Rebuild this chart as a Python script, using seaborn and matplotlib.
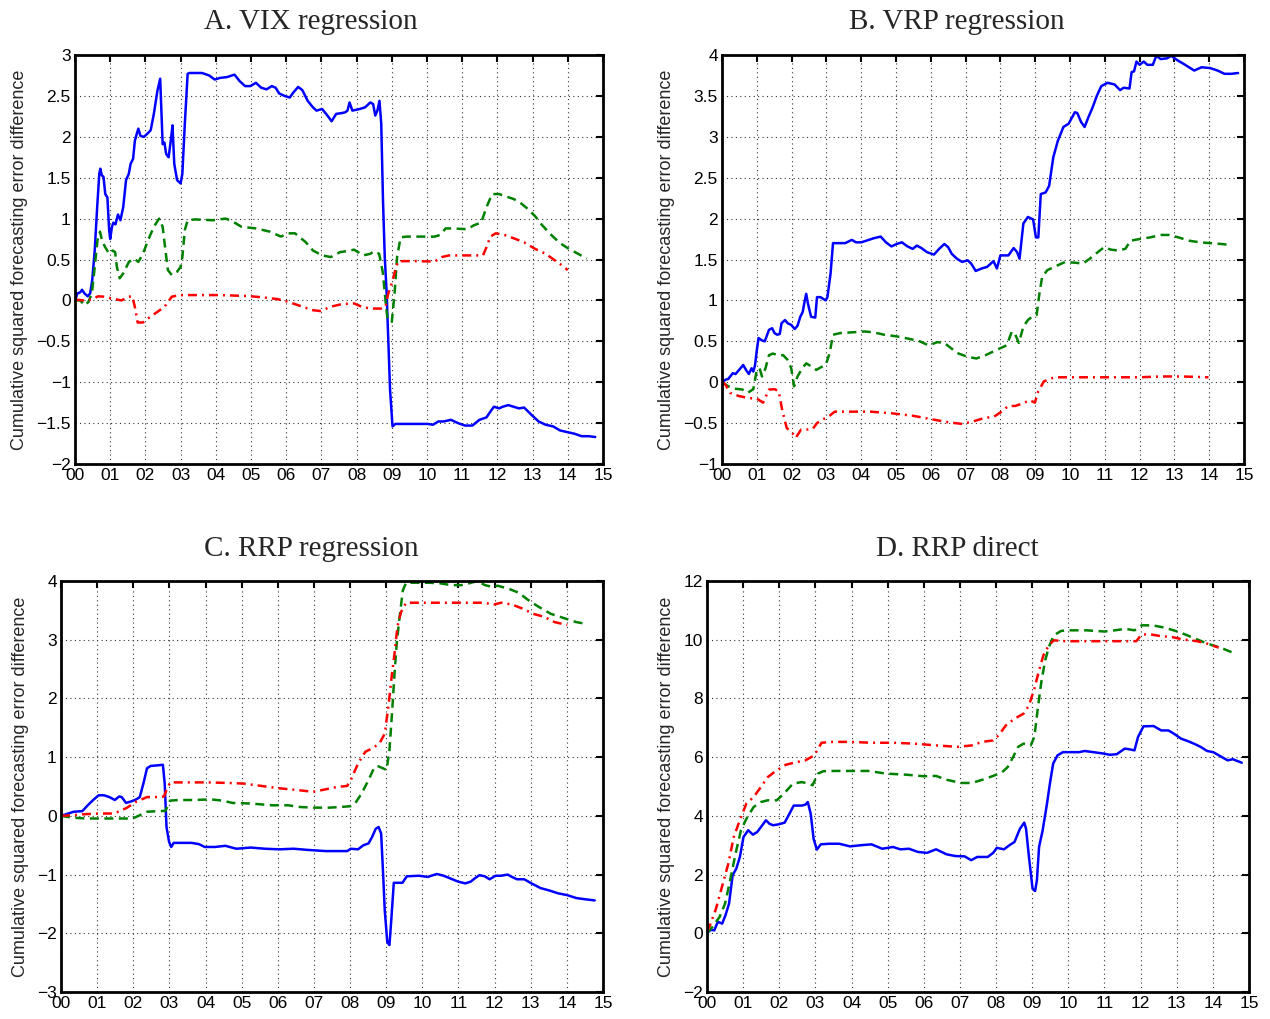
import numpy as np
import pandas as pd
import matplotlib
matplotlib.use("Agg")
import matplotlib.pyplot as plt
from matplotlib.ticker import FuncFormatter, FixedLocator
import seaborn as sns

# ---------------- data (years since 2000, cumulative SFE difference) ----------------
# Panel A: VIX regression
a_blue_x = [0, 0.07, 0.15, 0.2, 0.27, 0.36, 0.43, 0.49, 0.56, 0.63, 0.69, 0.72, 0.76, 0.81, 0.86, 0.92,
            0.97, 1.0, 1.05, 1.09, 1.15, 1.22, 1.29, 1.37, 1.45, 1.53, 1.58, 1.65, 1.7, 1.75, 1.8, 1.86,
            1.96, 2.06, 2.15, 2.24, 2.34, 2.42, 2.49, 2.54, 2.59, 2.66, 2.72, 2.77, 2.82, 2.9, 3.0, 3.05,
            3.12, 3.2, 3.25, 3.61, 3.81, 3.97, 4.12, 4.32, 4.53, 4.68, 4.83, 4.98, 5.14, 5.29, 5.44, 5.59,
            5.7, 5.8, 5.95, 6.1, 6.2, 6.34, 6.46, 6.61, 6.76, 6.86, 7.02, 7.17, 7.29, 7.42, 7.58, 7.68,
            7.74, 7.8, 7.88, 8.09, 8.24, 8.39, 8.47, 8.53, 8.59, 8.65, 8.7, 8.75, 8.8, 8.85, 8.9, 8.95,
            9.02, 9.1, 9.31, 9.71, 10.02, 10.17, 10.32, 10.47, 10.68, 10.88, 11.08, 11.29, 11.49, 11.69,
            11.8, 11.9, 12.05, 12.15, 12.31, 12.46, 12.61, 12.76, 12.97, 13.17, 13.37, 13.58, 13.78,
            13.98, 14.19, 14.39, 14.59, 14.78]
a_blue_y = [0, 0.085, 0.1, 0.13, 0.085, 0.05, 0.085, 0.25, 0.61, 1.14, 1.55, 1.61, 1.53, 1.51, 1.30, 1.26,
            0.86, 0.75, 0.9, 0.95, 0.93, 1.05, 0.98, 1.14, 1.47, 1.55, 1.67, 1.73, 1.95, 2.03, 2.1, 2.01,
            2.0, 2.04, 2.08, 2.28, 2.56, 2.71, 1.91, 1.93, 1.79, 1.75, 1.95, 2.14, 1.67, 1.47, 1.43, 1.55,
            2.16, 2.77, 2.78, 2.78, 2.75, 2.70, 2.72, 2.73, 2.76, 2.68, 2.62, 2.62, 2.66, 2.6, 2.58, 2.62,
            2.6, 2.53, 2.5, 2.48, 2.54, 2.61, 2.57, 2.44, 2.36, 2.32, 2.34, 2.26, 2.19, 2.28, 2.29, 2.3,
            2.32, 2.42, 2.32, 2.34, 2.36, 2.42, 2.4, 2.26, 2.32, 2.44, 2.16, 1.22, 0.53, 0.13, -0.48, -1.09,
            -1.54, -1.51, -1.51, -1.51, -1.51, -1.52, -1.48, -1.48, -1.46, -1.5, -1.53, -1.53, -1.46, -1.43,
            -1.36, -1.3, -1.32, -1.3, -1.28, -1.3, -1.32, -1.31, -1.4, -1.48, -1.52, -1.54, -1.59,
            -1.61, -1.63, -1.66, -1.66, -1.67]
a_green_x = [0, 0.15, 0.27, 0.38, 0.48, 0.56, 0.64, 0.71, 0.78, 0.86, 0.97, 1.07, 1.14, 1.19, 1.27, 1.37,
             1.53, 1.68, 1.8, 1.93, 2.08, 2.24, 2.39, 2.49, 2.57, 2.64, 2.75, 2.9, 3.0, 3.05, 3.12, 3.2,
             3.41, 3.92, 4.27, 4.42, 4.73, 5.14, 5.54, 5.85, 6.05, 6.25, 6.56, 6.76, 7.02, 7.27, 7.53,
             7.68, 7.93, 8.19, 8.39, 8.49, 8.64, 8.75, 8.82, 8.88, 9.0, 9.08, 9.15, 9.25, 9.41, 9.71,
             10.22, 10.37, 10.53, 10.73, 11.14, 11.34, 11.54, 11.69, 11.85, 12.05, 12.25, 12.46, 12.66,
             12.86, 13.07, 13.27, 13.53, 13.78, 14.03, 14.29, 14.54]
a_green_y = [0, 0.0, -0.06, -0.02, 0.085, 0.41, 0.74, 0.84, 0.71, 0.65, 0.57, 0.61, 0.59, 0.41, 0.27, 0.33,
             0.47, 0.51, 0.47, 0.57, 0.74, 0.9, 1.0, 0.9, 0.61, 0.37, 0.31, 0.35, 0.41, 0.53, 0.86, 0.98,
             0.99, 0.98, 1.0, 0.98, 0.9, 0.88, 0.84, 0.78, 0.82, 0.82, 0.71, 0.61, 0.55, 0.53, 0.59,
             0.6, 0.62, 0.55, 0.57, 0.6, 0.57, 0.33, 0.0, -0.24, -0.26, 0.09, 0.53, 0.77, 0.78, 0.78,
             0.78, 0.8, 0.88, 0.88, 0.87, 0.92, 0.95, 1.14, 1.30, 1.3, 1.27, 1.24, 1.19,
             1.12, 1.03, 0.92, 0.8, 0.7, 0.63, 0.57, 0.51]
a_red_x = [0, 0.25, 0.46, 0.66, 0.86, 1.07, 1.32, 1.53, 1.63, 1.7, 1.78, 1.93, 2.14, 2.34, 2.54, 2.75, 2.95,
           3.41, 4.12, 4.93, 5.34, 5.75, 6.05, 6.46, 6.76, 6.97, 7.27, 7.58, 7.93, 8.14, 8.39, 8.7, 8.82,
           8.9, 9.0, 9.1, 9.18, 9.36, 9.71, 10.22, 10.42, 10.63, 11.03, 11.59, 11.69, 11.8, 11.95, 12.2,
           12.46, 12.76, 13.07, 13.37, 13.63, 13.83, 14.0]
a_red_y = [0.01, 0.0, 0.01, 0.05, 0.045, 0.02, 0.0, 0.045, 0.05, -0.08, -0.27, -0.27, -0.2, -0.14, -0.08,
           0.045, 0.065, 0.065, 0.065, 0.053, 0.037, 0.016, -0.016, -0.077, -0.12, -0.13, -0.077, -0.045,
           -0.037, -0.077, -0.1, -0.1, -0.08, 0.085, 0.21, 0.37, 0.48, 0.48, 0.48, 0.475, 0.53, 0.55,
           0.55, 0.55, 0.65, 0.78, 0.82, 0.8, 0.76, 0.71, 0.63, 0.57, 0.49, 0.43, 0.37]

# Panel B: VRP regression
b_blue_x = [0, 0.1, 0.18, 0.31, 0.39, 0.49, 0.61, 0.69, 0.77, 0.85, 0.9, 0.95, 1.0, 1.05, 1.15, 1.23, 1.35,
            1.44, 1.51, 1.59, 1.66, 1.71, 1.81, 1.89, 1.99, 2.09, 2.17, 2.25, 2.32, 2.37, 2.42, 2.47, 2.56,
            2.68, 2.73, 2.83, 2.98, 3.03, 3.12, 3.19, 3.34, 3.54, 3.73, 3.85, 4.0, 4.15, 4.36, 4.56, 4.71,
            4.87, 5.02, 5.17, 5.33, 5.48, 5.6, 5.73, 5.89, 6.09, 6.24, 6.39, 6.5, 6.6, 6.75, 6.9, 7.06,
            7.16, 7.29, 7.46, 7.62, 7.8, 7.9, 8.0, 8.23, 8.38, 8.48, 8.55, 8.66, 8.79, 8.94, 9.02, 9.09,
            9.16, 9.3, 9.4, 9.52, 9.65, 9.81, 9.96, 10.14, 10.21, 10.32, 10.42, 10.52, 10.65, 10.77, 10.9,
            11.08, 11.28, 11.44, 11.54, 11.71, 11.77, 11.84, 11.91, 12.0, 12.12, 12.22, 12.38, 12.48, 12.61,
            12.79, 12.91, 13.07, 13.27, 13.42, 13.57, 13.78, 14.03, 14.24, 14.44, 14.64, 14.83]
b_blue_y = [0, 0.03, 0.04, 0.11, 0.1, 0.15, 0.21, 0.15, 0.1, 0.17, 0.13, 0.21, 0.39, 0.54, 0.51, 0.5, 0.64,
            0.66, 0.6, 0.58, 0.59, 0.72, 0.76, 0.72, 0.7, 0.65, 0.69, 0.8, 0.86, 0.98, 1.08, 0.96, 0.8,
            0.79, 1.04, 1.04, 1.0, 1.04, 1.33, 1.7, 1.7, 1.7, 1.74, 1.71, 1.71, 1.73, 1.76, 1.78, 1.71,
            1.66, 1.69, 1.71, 1.66, 1.63, 1.67, 1.64, 1.59, 1.56, 1.63, 1.69, 1.65, 1.57, 1.51, 1.47, 1.49,
            1.45, 1.36, 1.39, 1.41, 1.48, 1.39, 1.55, 1.55, 1.64, 1.59, 1.51, 1.94, 2.02, 1.99, 1.77, 1.77,
            2.3, 2.32, 2.4, 2.75, 2.95, 3.12, 3.16, 3.3, 3.29, 3.18, 3.12, 3.23, 3.36, 3.5, 3.62,
            3.66, 3.64, 3.57, 3.6, 3.59, 3.79, 3.8, 3.92, 3.88, 3.92, 3.88, 3.88, 3.99, 3.95,
            3.96, 3.99, 3.94, 3.89, 3.85, 3.81, 3.85, 3.84, 3.81, 3.77, 3.77, 3.78]
b_green_x = [0, 0.18, 0.39, 0.59, 0.74, 0.9, 1.0, 1.08, 1.15, 1.25, 1.35, 1.46, 1.61, 1.76, 1.89, 1.99, 2.07,
             2.17, 2.32, 2.42, 2.58, 2.71, 2.83, 2.98, 3.09, 3.19, 3.39, 3.75, 4.1, 4.36, 4.66, 5.02, 5.38,
             5.68, 5.94, 6.19, 6.39, 6.6, 6.8, 7.06, 7.31, 7.57, 7.77, 7.97, 8.18, 8.33, 8.43, 8.53, 8.66,
             8.79, 8.94, 9.04, 9.12, 9.2, 9.35, 9.55, 9.86, 10.16, 10.37, 10.57, 10.77, 10.98, 11.18,
             11.38, 11.59, 11.74, 12.0, 12.3, 12.61, 12.86, 13.12, 13.42, 13.73, 14.03, 14.34, 14.56]
b_green_y = [0, -0.05, -0.08, -0.09, -0.13, -0.085, 0.15, 0.17, 0.07, 0.17, 0.33, 0.35, 0.33, 0.33, 0.27,
             0.17, -0.05, 0.07, 0.18, 0.23, 0.19, 0.15, 0.18, 0.21, 0.35, 0.58, 0.6, 0.61, 0.62, 0.61, 0.58,
             0.56, 0.53, 0.5, 0.45, 0.49, 0.48, 0.41, 0.35, 0.31, 0.29, 0.33, 0.37, 0.41, 0.45, 0.62, 0.58,
             0.48, 0.68, 0.76, 0.81, 0.82, 1.08, 1.29, 1.37, 1.41, 1.47, 1.46, 1.45, 1.51, 1.58, 1.65,
             1.62, 1.61, 1.63, 1.73, 1.75, 1.77, 1.8, 1.8, 1.77, 1.73, 1.71, 1.7, 1.69, 1.68]
b_red_x = [0, 0.1, 0.23, 0.49, 0.79, 1.0, 1.18, 1.35, 1.51, 1.63, 1.73, 1.86, 2.02, 2.12, 2.27, 2.42, 2.61,
           2.73, 2.88, 3.09, 3.24, 3.65, 4.26, 4.87, 5.48, 5.99, 6.5, 6.9, 7.21, 7.52, 7.82, 8.0, 8.23,
           8.43, 8.64, 8.84, 8.99, 9.09, 9.25, 9.55, 9.96, 10.57, 11.38, 12.0, 12.61, 13.22, 13.98]
b_red_y = [0.01, -0.03, -0.13, -0.17, -0.195, -0.2, -0.25, -0.09, -0.085, -0.11, -0.34, -0.56, -0.62, -0.68,
           -0.58, -0.58, -0.57, -0.5, -0.46, -0.41, -0.36, -0.36, -0.36, -0.38, -0.41, -0.45, -0.49, -0.51,
           -0.48, -0.44, -0.42, -0.37, -0.29, -0.29, -0.26, -0.22, -0.25, -0.11, 0.01, 0.06, 0.06, 0.06,
           0.06, 0.06, 0.07, 0.07, 0.06]

# Panel C: RRP regression
c_blue_x = [0, 0.2, 0.35, 0.59, 0.74, 0.89, 1.04, 1.19, 1.34, 1.49, 1.61, 1.68, 1.8, 1.96, 2.08, 2.18, 2.28,
            2.38, 2.48, 2.67, 2.82, 2.87, 2.92, 2.99, 3.05, 3.12, 3.27, 3.61, 3.81, 3.98, 4.26, 4.55, 4.85,
            5.25, 5.64, 6.04, 6.44, 6.83, 7.33, 7.92, 8.02, 8.22, 8.37, 8.51, 8.61, 8.71, 8.79, 8.86, 8.91,
            8.96, 9.03, 9.09, 9.14, 9.21, 9.45, 9.57, 9.9, 10.15, 10.4, 10.59, 10.79, 10.99, 11.19, 11.34,
            11.44, 11.58, 11.73, 11.86, 12.03, 12.18, 12.36, 12.48, 12.62, 12.82, 13.02, 13.27, 13.51,
            13.76, 14.01, 14.26, 14.5, 14.77]
c_blue_y = [0, 0.04, 0.07, 0.08, 0.18, 0.27, 0.35, 0.35, 0.32, 0.27, 0.33, 0.32, 0.22, 0.25, 0.28, 0.32, 0.55,
            0.81, 0.85, 0.86, 0.87, 0.55, -0.19, -0.44, -0.53, -0.46, -0.46, -0.46, -0.48, -0.53, -0.53,
            -0.51, -0.56, -0.54, -0.56, -0.57, -0.56, -0.58, -0.6, -0.6, -0.56, -0.57, -0.5, -0.47, -0.36,
            -0.22, -0.19, -0.3, -0.93, -1.61, -2.15, -2.2, -1.78, -1.14, -1.14, -1.03, -1.02, -1.04, -0.99,
            -1.02, -1.07, -1.12, -1.15, -1.12, -1.07, -1.01, -1.03, -1.08, -1.02, -1.02, -1.0, -1.04, -1.08,
            -1.08, -1.15, -1.23, -1.27, -1.32, -1.35, -1.4, -1.42, -1.44]
c_green_x = [0, 0.3, 0.69, 1.09, 1.49, 1.98, 2.18, 2.38, 2.67, 2.89, 3.02, 3.27, 3.66, 4.16, 4.46, 4.75, 5.25,
             5.84, 6.29, 6.63, 7.03, 7.43, 7.72, 8.02, 8.17, 8.32, 8.51, 8.66, 8.76, 8.91, 9.01, 9.09, 9.16,
             9.23, 9.29, 9.36, 9.46, 9.55, 9.9, 10.2, 10.5, 10.79, 11.09, 11.29, 11.53, 11.73, 11.93, 12.08,
             12.38, 12.67, 12.92, 13.22, 13.56, 13.96, 14.26, 14.53]
c_green_y = [0, -0.03, -0.045, -0.045, -0.045, -0.045, 0.01, 0.07, 0.08, 0.085, 0.26, 0.27, 0.27, 0.28, 0.26,
             0.22, 0.21, 0.18, 0.18, 0.15, 0.14, 0.14, 0.15, 0.165, 0.24, 0.38, 0.61, 0.81, 0.85, 0.81, 0.78,
             1.12, 1.74, 2.42, 2.93, 3.33, 3.84, 3.97, 3.97, 3.97, 3.96, 3.93, 3.93, 3.96, 4.0, 3.93, 3.9,
             3.92, 3.87, 3.8, 3.68, 3.56, 3.44, 3.36, 3.3, 3.27]
c_red_x = [0, 0.3, 0.69, 1.09, 1.44, 1.63, 1.83, 2.08, 2.38, 2.67, 2.85, 2.92, 3.02, 3.47, 4.06, 4.65, 5.05,
           5.54, 6.04, 6.53, 6.98, 7.23, 7.62, 7.92, 8.02, 8.22, 8.42, 8.61, 8.81, 8.96, 9.06, 9.16, 9.23,
           9.31, 9.41, 9.55, 10.0, 10.59, 11.19, 11.68, 11.98, 12.18, 12.48, 12.77, 13.07, 13.37, 13.66,
           14.01]
c_red_y = [0, 0.01, 0.03, 0.04, 0.04, 0.08, 0.14, 0.24, 0.32, 0.32, 0.33, 0.44, 0.57, 0.57, 0.57, 0.56, 0.55,
           0.51, 0.47, 0.44, 0.41, 0.44, 0.49, 0.51, 0.61, 0.89, 1.09, 1.15, 1.23, 1.4, 1.86, 2.42, 2.76,
           3.22, 3.47, 3.63, 3.63, 3.63, 3.63, 3.63, 3.6, 3.63, 3.6, 3.53, 3.44, 3.39, 3.3, 3.25]

# Panel D: RRP direct
d_blue_x = [0, 0.1, 0.2, 0.3, 0.42, 0.51, 0.61, 0.71, 0.81, 0.91, 1.01, 1.14, 1.27, 1.39, 1.53, 1.63, 1.73,
            1.83, 1.98, 2.15, 2.28, 2.4, 2.62, 2.72, 2.79, 2.87, 2.95, 3.04, 3.15, 3.37, 3.66, 3.96, 4.26,
            4.55, 4.85, 5.15, 5.35, 5.59, 5.84, 6.09, 6.34, 6.63, 6.88, 7.13, 7.31, 7.48, 7.77, 7.92, 8.02,
            8.22, 8.37, 8.51, 8.66, 8.78, 8.83, 8.91, 9.01, 9.08, 9.13, 9.19, 9.29, 9.41, 9.49, 9.58, 9.7,
            9.85, 10.1, 10.3, 10.45, 10.69, 10.99, 11.14, 11.34, 11.56, 11.68, 11.83, 11.93, 12.08, 12.36,
            12.57, 12.77, 12.92, 13.12, 13.32, 13.51, 13.66, 13.84, 14.01, 14.21, 14.41, 14.55, 14.8]
d_blue_y = [0, 0.12, 0.1, 0.39, 0.33, 0.61, 1.01, 1.98, 2.2, 2.6, 3.28, 3.51, 3.36, 3.45, 3.68, 3.85, 3.73,
            3.68, 3.71, 3.77, 4.07, 4.35, 4.35, 4.38, 4.47, 4.07, 3.22, 2.85, 3.03, 3.05, 3.05, 2.96, 3.0,
            3.03, 2.88, 2.94, 2.86, 2.88, 2.77, 2.74, 2.86, 2.69, 2.63, 2.62, 2.49, 2.6, 2.6, 2.74, 2.91,
            2.86, 3.0, 3.11, 3.56, 3.77, 3.56, 2.6, 1.52, 1.44, 1.8, 2.94, 3.51, 4.42, 5.1, 5.78, 6.06,
            6.17, 6.17, 6.17, 6.21, 6.17, 6.12, 6.08, 6.1, 6.29, 6.27, 6.23, 6.69, 7.05, 7.06,
            6.91, 6.91, 6.8, 6.63, 6.54, 6.44, 6.35, 6.21, 6.17, 6.03, 5.89, 5.93, 5.81]
d_green_x = [0, 0.15, 0.35, 0.5, 0.64, 0.79, 0.94, 1.09, 1.29, 1.49, 1.68, 1.93, 2.13, 2.38, 2.62, 2.82, 2.92,
             3.07, 3.22, 3.56, 4.06, 4.46, 4.95, 5.54, 5.99, 6.34, 6.63, 7.03, 7.33, 7.62, 7.92, 8.17, 8.32,
             8.47, 8.61, 8.76, 8.96, 9.06, 9.16, 9.26, 9.36, 9.46, 9.6, 9.8, 10.0, 10.5, 11.0, 11.29, 11.58,
             11.83, 12.03, 12.33, 12.67, 13.07, 13.47, 13.86, 14.21, 14.55]
d_green_y = [0, 0.22, 0.56, 1.01, 1.8, 2.71, 3.51, 3.9, 4.3, 4.47, 4.53, 4.53, 4.76, 5.1, 5.15, 5.1, 5.04,
             5.44, 5.52, 5.53, 5.53, 5.53, 5.44, 5.4, 5.35, 5.36, 5.23, 5.12, 5.12, 5.23, 5.36, 5.49, 5.66,
             6.0, 6.35, 6.46, 6.4, 6.69, 7.71, 8.62, 9.3, 9.75, 10.15, 10.3, 10.32, 10.32, 10.28, 10.32,
             10.37, 10.32, 10.49, 10.49, 10.41, 10.26, 10.06, 9.86, 9.73, 9.56]
d_red_x = [0, 0.1, 0.25, 0.4, 0.59, 0.74, 0.89, 1.09, 1.29, 1.49, 1.68, 1.93, 2.18, 2.48, 2.72, 2.97, 3.17,
           3.47, 3.96, 4.55, 5.15, 5.74, 6.34, 6.93, 7.33, 7.62, 7.92, 8.07, 8.27, 8.51, 8.76, 8.91, 9.06,
           9.19, 9.31, 9.46, 9.6, 9.9, 10.3, 10.69, 11.19, 11.88, 12.03, 12.28, 12.57, 12.87, 13.17, 13.56,
           13.86, 14.16]
d_red_y = [0.05, 0.33, 0.84, 1.52, 2.37, 3.28, 3.79, 4.42, 4.64, 4.98, 5.32, 5.55, 5.74, 5.83, 5.89, 6.06,
           6.49, 6.52, 6.52, 6.49, 6.49, 6.46, 6.4, 6.35, 6.4, 6.52, 6.57, 6.74, 7.08, 7.31, 7.48, 7.76, 8.33,
           8.96, 9.47, 9.81, 9.98, 9.95, 9.95, 9.95, 9.95, 9.95, 10.18, 10.18, 10.12, 10.09, 10.01, 9.95,
           9.86, 9.73]

titles = ["A. VIX regression", "B. VRP regression", "C. RRP regression", "D. RRP direct"]
ylabel_text = "Cumulative squared forecasting error difference"
xtick_labels = ["%02d" % i for i in range(16)]
ylims = [(-2, 3), (-1, 4), (-3, 4), (-2, 12)]
ysteps = [0.5, 0.5, 1, 2]

panels = [
    [(a_blue_x, a_blue_y), (a_green_x, a_green_y), (a_red_x, a_red_y)],
    [(b_blue_x, b_blue_y), (b_green_x, b_green_y), (b_red_x, b_red_y)],
    [(c_blue_x, c_blue_y), (c_green_x, c_green_y), (c_red_x, c_red_y)],
    [(d_blue_x, d_blue_y), (d_green_x, d_green_y), (d_red_x, d_red_y)],
]

# ---------------- style ----------------
sns.set_style("white")
plt.rcParams["font.family"] = ["Liberation Sans", "DejaVu Sans"]
plt.rcParams["axes.unicode_minus"] = True

W, H = 1270, 1019
fig = plt.figure(figsize=(W / 100, H / 100), dpi=100)

# axes boxes in pixels: left, right, top, bottom
boxes = [(75, 603, 55, 464), (722, 1244, 55, 464), (61, 603, 581, 992), (707, 1249, 581, 992)]
# title anchor (center x, baseline y) in pixels
title_pos = [(311, 29), (957, 29), (311, 556), (957, 556)]

series_styles = [
    dict(color="#0000ff", linestyle="-"),
    dict(color="#008000", linestyle=(0, (3.6, 2.2))),
    dict(color="#ff0000", linestyle=(0, (3.6, 2.0, 0.8, 2.0))),
]

def fmt(v, pos):
    s = "%g" % v
    return s.replace("-", "\u2212")

for k in range(4):
    l, r, t, b = boxes[k]
    ax = fig.add_axes([l / W, 1 - b / H, (r - l) / W, (b - t) / H])
    for (xs, ys), st in zip(panels[k], series_styles):
        df = pd.DataFrame({"x": xs, "y": ys})
        sns.lineplot(data=df, x="x", y="y", ax=ax, color=st["color"], linestyle=st["linestyle"],
                     linewidth=1.8, estimator=None, sort=False, legend=False)
    ax.set_xlim(0, 15)
    ax.set_ylim(*ylims[k])
    ax.xaxis.set_major_locator(FixedLocator(np.arange(16)))
    ax.set_xticklabels(xtick_labels)
    lo, hi = ylims[k]
    ax.yaxis.set_major_locator(FixedLocator(np.arange(lo, hi + 1e-9, ysteps[k])))
    ax.yaxis.set_major_formatter(FuncFormatter(fmt))
    ax.grid(True, color="#333333", linestyle=(0, (1, 3)), linewidth=0.8)
    for sp in ax.spines.values():
        sp.set_visible(True)
        sp.set_color("black")
        sp.set_linewidth(2.0)
    ax.tick_params(direction="in", length=5, width=1.5, top=True, right=True,
                   labelsize=12.5, pad=3, colors="black")
    ax.set_xlabel("")
    ax.set_ylabel(ylabel_text, fontsize=13, labelpad=6)
    tx, ty = title_pos[k]
    fig.text(tx / W, 1 - ty / H, titles[k], ha="center", va="baseline", fontsize=21,
             family=["Liberation Serif", "DejaVu Serif"])

fig.savefig("out.png", dpi=100, facecolor="white")
